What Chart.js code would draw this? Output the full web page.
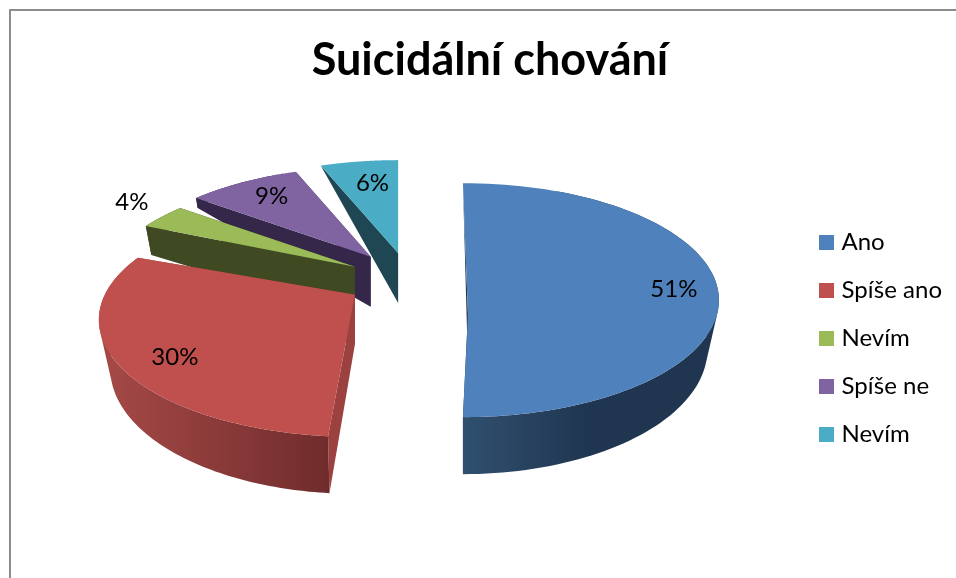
<!DOCTYPE html>
<html><head><meta charset="utf-8">
<script src="https://cdn.jsdelivr.net/npm/chart.js@4"></script>
<style>
html,body{margin:0;padding:0;background:#fff;overflow:hidden;width:956px;height:578px}
#frame{position:absolute;left:9px;top:9px;border-top:2px solid #8c8c8c;border-left:2px solid #8c8c8c;width:960px;height:660px}
canvas{display:block}
</style></head><body>
<div id="frame"><canvas id="c" width="958" height="654" style="width:958px;height:654px"></canvas></div>
<script>
const categories = ['Ano','Spíše ano','Nevím','Spíše ne','Nevím'];
const values = [51,30,4,9,6];
const chartTitle = 'Suicidální chování';
const topColors = ['#4f81bd','#c0504d','#9bbb59','#8064a2','#4bacc6'];

// styling of the 3D projection (no data here)
const FONT = 'Lato';
const PIE = {cx:389, cy:291, rx:256, ry:117, shrink:0.955, ky:0.42, explode:62};
const paintOrder = [4,3,2,1,0];
const rimTurn = [[0,-3.6],[2.4,10.5],[13.7,11],[11,4.6],[4,0]];
const nudge = [[1,-3],[0,0],[3,8],[-2,5],[5,1]];
const apexShift = [[5,14],[0,-25],[0,-27],[0,-27],[0,-24]];
const sideColors = ['#1f3550','#9b4240','#3f4a23','#35274a','#1f4653'];
const rimFrom = ['#30506f','#a64a47','#3f4a23','#35274a','#1f4653'];
const rimTo = ['#1f3550','#702c2c','#3f4a23','#35274a','#1f4653'];
const labelUV = [[.824,-.094],[-.703,.32],[-.871,-.778],[-.387,-.744],[-.10,-.80]];

const rad = d => d*Math.PI/180;
function depth(v){
  const t=[[-1,0],[-.94,0],[-.71,11],[-.6,28],[-.2,46],[0,50],[1,57]];
  for(let i=1;i<t.length;i++) if(v<=t[i][0]){
    const a=t[i-1],b=t[i];
    return a[1]+(b[1]-a[1])*(v-a[0])/(b[0]-a[0]);
  }
  return 57;
}
function centre(arc,i){
  const th=(arc.startAngle+arc.endAngle)/2+Math.PI/2;
  const ph=th-rad(12)*Math.sin(2*th);
  const o=arc.options.offset;
  return {x:PIE.cx+o*Math.sin(ph)+nudge[i][0], y:PIE.cy-o*PIE.ky*Math.cos(ph)+nudge[i][1]};
}
const pie3d = {
  id:'pie3d',
  beforeDatasetDraw(chart){
    const ctx=chart.ctx, arcs=chart.getDatasetMeta(0).data;
    for(const i of paintOrder){
      const arc=arcs[i], c=centre(arc,i);
      const a0=arc.startAngle+Math.PI/2+rad(rimTurn[i][0]);
      const a1=arc.endAngle+Math.PI/2+rad(rimTurn[i][1]);
      const top=[],bot=[],N=96;
      for(let k=0;k<=N;k++){
        const a=a0+(a1-a0)*k/N,u=Math.sin(a),v=-Math.cos(a),d=depth(v);
        top.push([c.x+PIE.rx*u,c.y+PIE.ry*v]);
        bot.push([c.x+PIE.rx*u*(1-(1-PIE.shrink)*d/50),c.y+PIE.ry*v+d]);
      }
      const ax=c.x+apexShift[i][0],ay=c.y+apexShift[i][1],d0=depth(0);
      const sub=pts=>{pts.forEach((p,j)=>j?ctx.lineTo(p[0],p[1]):ctx.moveTo(p[0],p[1]));ctx.closePath();};
      const poly=(pts,fill)=>{ctx.beginPath();sub(pts);ctx.fillStyle=fill;ctx.fill();};
      // radial faces
      poly([[ax,ay],top[0],bot[0],[ax,ay+d0]],sideColors[i]);
      poly([[ax,ay],top[N],bot[N],[ax,ay+d0]],sideColors[i]);
      // rim face: one path of quads filled once, so the silhouette stays closed without seams
      const xs=top.map(p=>p[0]);
      const lo=Math.min(...xs),hi=Math.max(...xs);
      const g=ctx.createLinearGradient(lo,0,i===0?lo+(hi-lo)*.5:hi,0);
      g.addColorStop(0,rimFrom[i]);g.addColorStop(1,rimTo[i]);
      ctx.beginPath();
      for(let k=0;k<N;k++){
        const q=[top[k],top[k+1],bot[k+1],bot[k]];
        const area=q.reduce((s,p,j)=>{const n=q[(j+1)%4];return s+p[0]*n[1]-n[0]*p[1];},0);
        sub(area<0?q.slice().reverse():q);
      }
      ctx.fillStyle=g;ctx.fill('nonzero');
      // top face
      poly([[ax,ay]].concat(top),arc.options.backgroundColor);
    }
    return false;
  },
  afterDatasetsDraw(chart){
    const ctx=chart.ctx, arcs=chart.getDatasetMeta(0).data;
    const total=values.reduce((a,b)=>a+b,0);
    ctx.save();
    ctx.font='24px '+FONT;ctx.fillStyle='#000';ctx.textAlign='center';ctx.textBaseline='middle';
    values.forEach((val,i)=>{
      const c=centre(arcs[i],i);
      ctx.fillText(Math.round(val/total*100)+'%',c.x+PIE.rx*labelUV[i][0],c.y+PIE.ry*labelUV[i][1]);
    });
    ctx.restore();
  }
};
const swatch = col=>{const s=document.createElement('canvas');s.width=15;s.height=15;const x=s.getContext('2d');x.fillStyle=col;x.fillRect(0,0,15,15);return s;};

new Chart(document.getElementById('c'),{
  type:'pie',
  data:{labels:categories,datasets:[{data:values,backgroundColor:topColors,borderWidth:0,offset:PIE.explode}]},
  options:{
    responsive:false,animation:false,rotation:0,
    layout:{padding:{left:17,right:17,bottom:0}},
    plugins:{
      tooltip:{enabled:false},
      title:{display:true,text:chartTitle,color:'#000',font:{family:FONT,size:45,weight:'bold'},padding:{top:22,bottom:30}},
      legend:{position:'right',labels:{
        font:{family:FONT,size:24},color:'#000',padding:24,usePointStyle:true,pointStyleWidth:5,boxHeight:15,
        generateLabels(ch){return categories.map((t,i)=>({text:t,fillStyle:topColors[i],strokeStyle:topColors[i],lineWidth:0,pointStyle:swatch(topColors[i]),index:i,hidden:false}));}
      }}
    }
  },
  plugins:[pie3d]
});
</script>
</body></html>
